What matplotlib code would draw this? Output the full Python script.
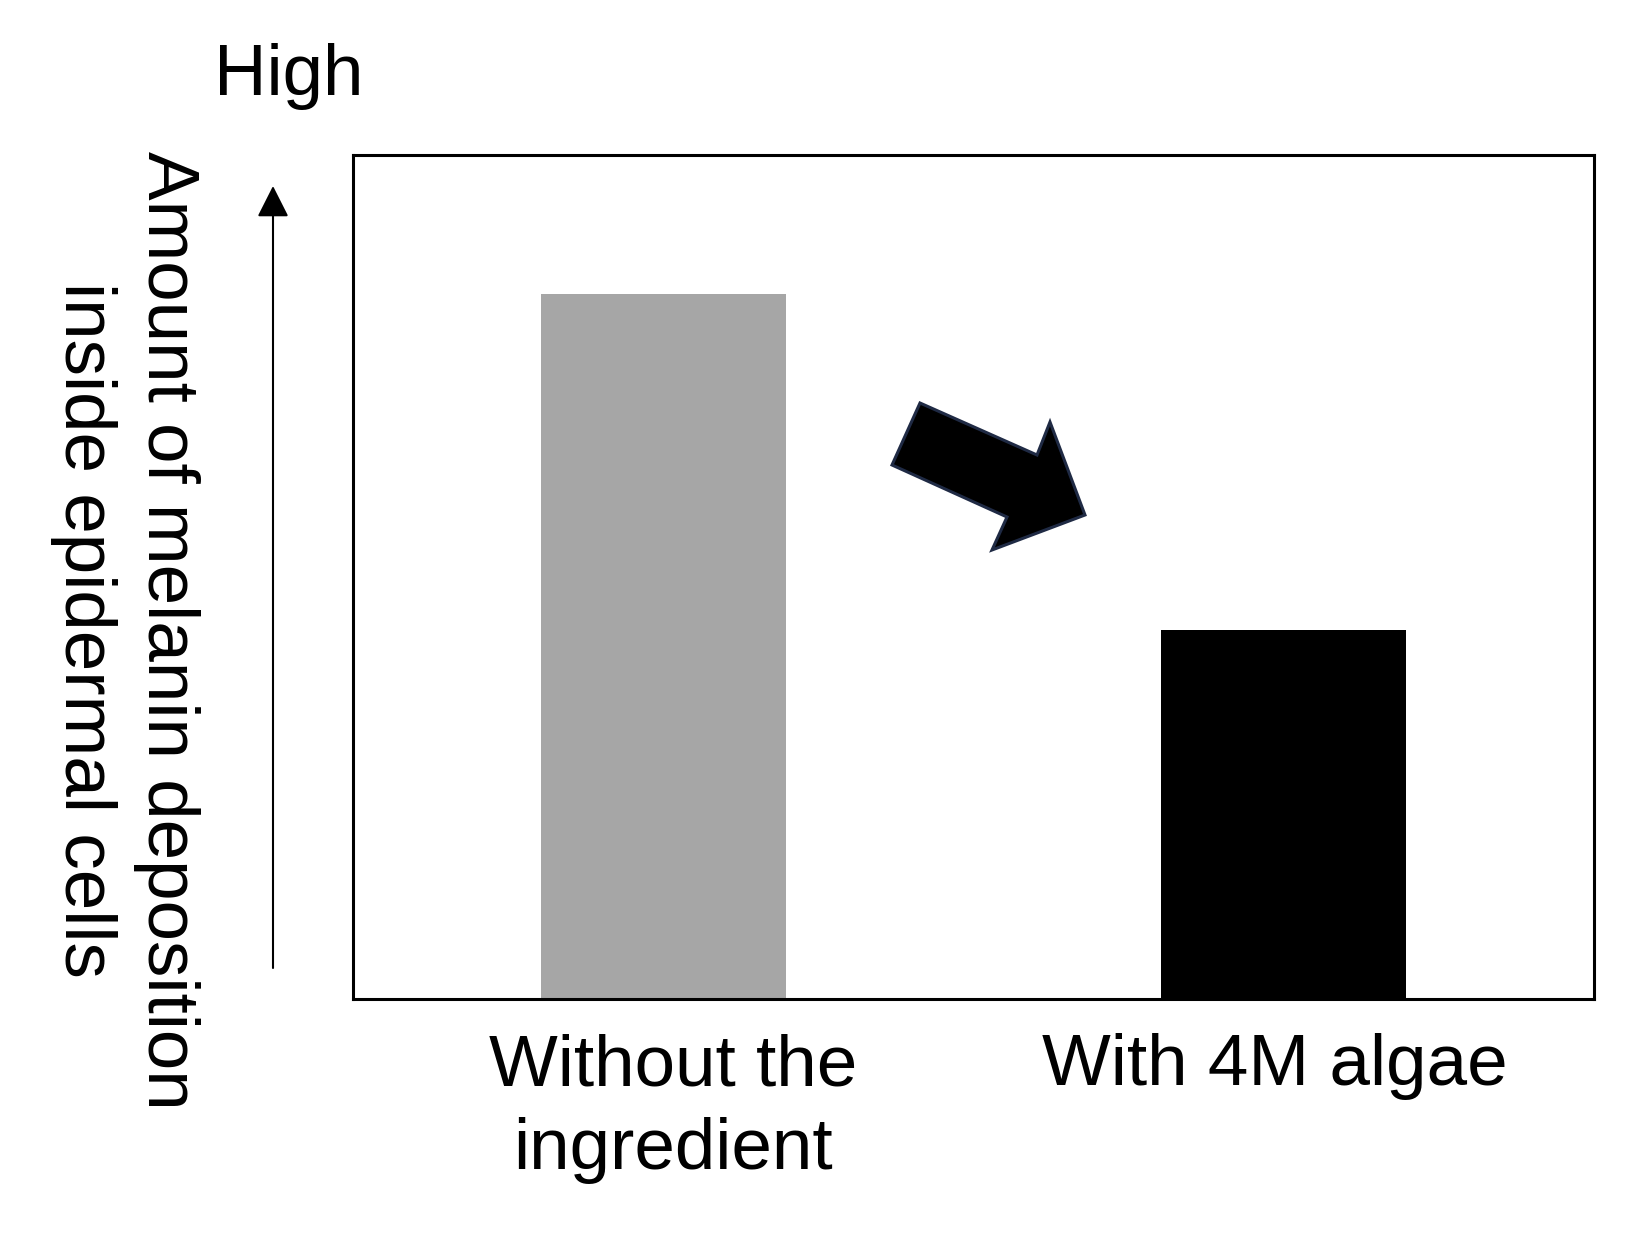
import numpy as np
import matplotlib.pyplot as plt
import matplotlib.transforms as mtransforms
from matplotlib.patches import Polygon, FancyArrowPatch

categories = ['Without the\ningredient', 'With 4M algae']
melanin = [83.5, 43.7]
bar_colors = ['#a6a6a6', '#000000']
ylabel = 'Amount of melanin deposition\ninside epidermal cells'

plt.rcParams['font.family'] = ['Liberation Sans', 'DejaVu Sans']

W, H = 1645, 1234
fig = plt.figure(figsize=(W / 100, H / 100), dpi=100)

# axes box in pixel terms (left, top, right, bottom)
ax = fig.add_axes([353 / W, 1 - 999 / H, (1594 - 353) / W, (999 - 155) / H])
x = np.arange(len(categories))
ax.bar(x, melanin, width=0.395, color=bar_colors)
ax.set_xlim(-0.5, 1.5)
ax.set_ylim(0, 100)
ax.set_xticks(x)
ax.set_xticklabels(categories, fontsize=52.5, linespacing=1.32)
ax.tick_params(axis='x', length=0, pad=24.5)
ax.set_yticks([])
for s in ax.spines.values():
    s.set_linewidth(2.2)

# labels sit slightly off the bar centres in the original
for lab, dx in zip(ax.get_xticklabels(), [10, -9]):
    lab.set_transform(lab.get_transform() +
                      mtransforms.ScaledTranslation(dx / 100, 0, fig.dpi_scale_trans))

def fx(px):
    return px / W

def fy(py):
    return 1 - py / H

# y label and "High"
fig.text(fx(125), fy(630), ylabel, rotation=-90, ha='center', va='center',
         multialignment='center', fontsize=52.5, linespacing=1.3)
fig.text(fx(214), fy(95), 'High', ha='left', va='baseline', fontsize=52.5)

# vertical arrow next to y label
arr = FancyArrowPatch((fx(273), fy(968)), (fx(273), fy(186)),
                      transform=fig.transFigure,
                      arrowstyle='-|>,head_length=0.97,head_width=0.49',
                      mutation_scale=20, lw=1.5, color='black',
                      shrinkA=0, shrinkB=0)
fig.add_artist(arr)

# big decreasing arrow between bars
pts = [(920, 403), (1037, 455), (1050, 422), (1085, 515),
       (992, 550), (1007, 517), (892, 465)]
poly = Polygon([(fx(a), fy(b)) for a, b in pts], closed=True,
               transform=fig.transFigure, facecolor='black',
               edgecolor='#1f2a44', lw=2.2, joinstyle='miter')
fig.add_artist(poly)

fig.savefig('out.png', dpi=100, facecolor='white')
